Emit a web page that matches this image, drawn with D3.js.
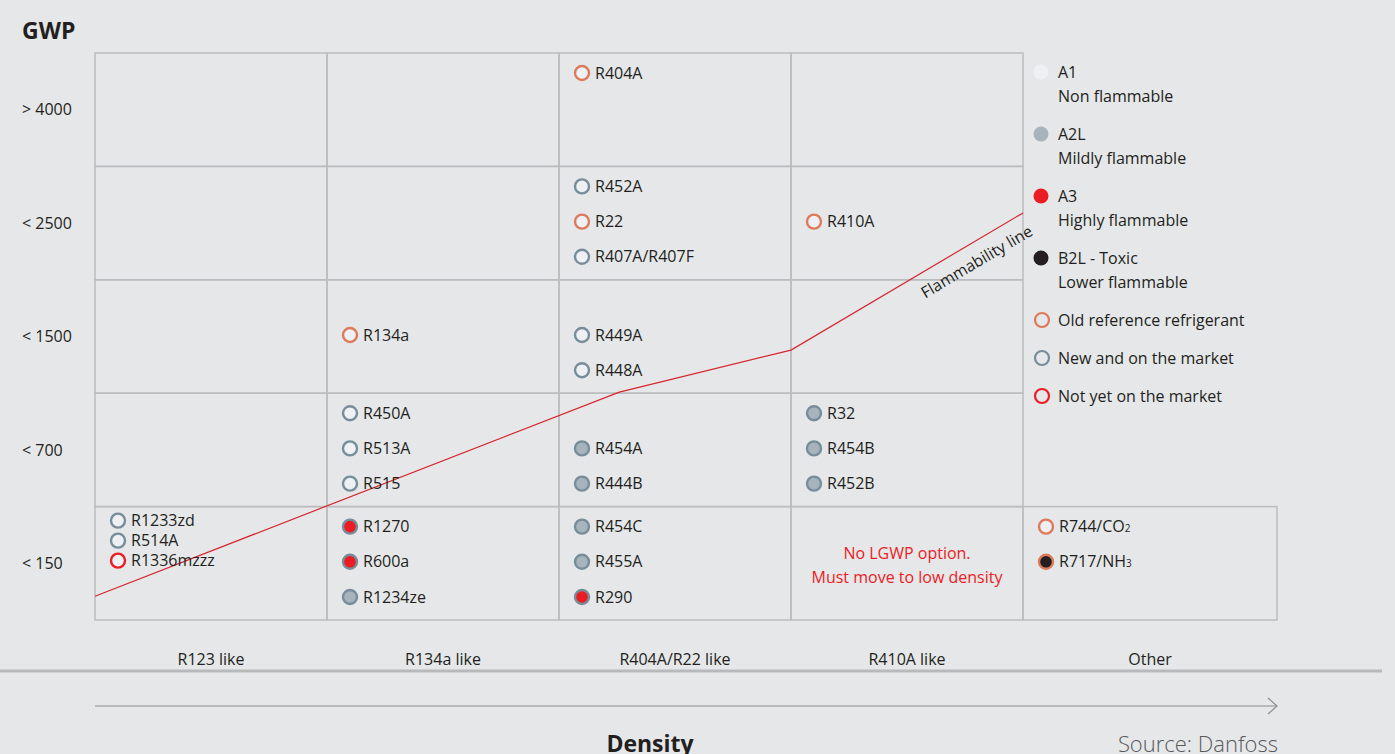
<!DOCTYPE html>
<html>
<head>
<meta charset="utf-8">
<script src="https://cdn.jsdelivr.net/npm/d3@7"></script>
<style>
  body { margin: 0; background: #e6e7e9; }
  svg { display: block; font-family: "Open Sans", sans-serif; }
</style>
</head>
<body>
<svg width="1395" height="754"></svg>
<script>
// density classes (columns) and GWP bands (rows)
var columns = ["R123 like", "R134a like", "R404A/R22 like", "R410A like", "Other"];
var rows = ["> 4000", "< 2500", "< 1500", "< 700", "< 150"];

// refrigerants: column, row, slot inside the cell, safety class, market status
var refrigerants = [
  { name: "R404A", col: "R404A/R22 like", row: "> 4000", slot: 0, cls: "A1", status: "old" },
  { name: "R452A", col: "R404A/R22 like", row: "< 2500", slot: 0, cls: "A1", status: "new" },
  { name: "R22", col: "R404A/R22 like", row: "< 2500", slot: 1, cls: "A1", status: "old" },
  { name: "R407A/R407F", col: "R404A/R22 like", row: "< 2500", slot: 2, cls: "A1", status: "new" },
  { name: "R410A", col: "R410A like", row: "< 2500", slot: 1, cls: "A1", status: "old" },
  { name: "R134a", col: "R134a like", row: "< 1500", slot: 1, cls: "A1", status: "old" },
  { name: "R449A", col: "R404A/R22 like", row: "< 1500", slot: 1, cls: "A1", status: "new" },
  { name: "R448A", col: "R404A/R22 like", row: "< 1500", slot: 2, cls: "A1", status: "new" },
  { name: "R450A", col: "R134a like", row: "< 700", slot: 0, cls: "A1", status: "new" },
  { name: "R513A", col: "R134a like", row: "< 700", slot: 1, cls: "A1", status: "new" },
  { name: "R515", col: "R134a like", row: "< 700", slot: 2, cls: "A1", status: "new" },
  { name: "R454A", col: "R404A/R22 like", row: "< 700", slot: 1, cls: "A2L", status: "new" },
  { name: "R444B", col: "R404A/R22 like", row: "< 700", slot: 2, cls: "A2L", status: "new" },
  { name: "R32", col: "R410A like", row: "< 700", slot: 0, cls: "A2L", status: "new" },
  { name: "R454B", col: "R410A like", row: "< 700", slot: 1, cls: "A2L", status: "new" },
  { name: "R452B", col: "R410A like", row: "< 700", slot: 2, cls: "A2L", status: "new" },
  { name: "R1270", col: "R134a like", row: "< 150", slot: 0, cls: "A3", status: "new" },
  { name: "R600a", col: "R134a like", row: "< 150", slot: 1, cls: "A3", status: "new" },
  { name: "R1234ze", col: "R134a like", row: "< 150", slot: 2, cls: "A2L", status: "new" },
  { name: "R454C", col: "R404A/R22 like", row: "< 150", slot: 0, cls: "A2L", status: "new" },
  { name: "R455A", col: "R404A/R22 like", row: "< 150", slot: 1, cls: "A2L", status: "new" },
  { name: "R290", col: "R404A/R22 like", row: "< 150", slot: 2, cls: "A3", status: "new" },
  { name: "R744/CO", sub: "2", col: "Other", row: "< 150", slot: 0, cls: "A1", status: "old" },
  { name: "R717/NH", sub: "3", col: "Other", row: "< 150", slot: 1, cls: "B2L", status: "old" }
];

// the R123-like cell holds a tighter list
var r123Items = [
  { name: "R1233zd", slot: 0, cls: "A1", status: "new" },
  { name: "R514A", slot: 1, cls: "A1", status: "new" },
  { name: "R1336mzzz", slot: 2, cls: "A1", status: "notyet" }
];

// flammability line in grid units (columns, rows from bottom)
var flamX = [0, 2.26, 3.0, 4.0];
var flamY = [0.21, 2.01, 2.38, 3.59];

var legendClasses = [
  { cls: "A1", l1: "A1", l2: "Non flammable" },
  { cls: "A2L", l1: "A2L", l2: "Mildly flammable" },
  { cls: "A3", l1: "A3", l2: "Highly flammable" },
  { cls: "B2L", l1: "B2L - Toxic", l2: "Lower flammable" }
];
var legendStatus = [
  { status: "old", label: "Old reference refrigerant" },
  { status: "new", label: "New and on the market" },
  { status: "notyet", label: "Not yet on the market" }
];

var fillColor = { A1: "#eef0f3", A2L: "#a7b4bd", A3: "#ec1c24", B2L: "#231f20" };
var strokeColor = { old: "#dd7a5b", new: "#778e9a", notyet: "#ec1c24" };

var svg = d3.select("svg"),
  textColor = "#231f20",
  gridColor = "#bcbdbf";

var x = d3.scaleBand().domain(columns.slice(0, 4)).range([95, 1023]);
var otherX = 1023, otherW = 254;
var y = d3.scaleBand().domain(rows).range([53, 620]);
var colLeft = function(c) { return c === "Other" ? otherX : x(c); };
var colWidth = function(c) { return c === "Other" ? otherW : x.bandwidth(); };

var xLin = d3.scaleLinear().domain([0, 4]).range([95, 1023]);
var yLin = d3.scaleLinear().domain([0, 5]).range([620, 53]);

// grid cells
var cells = [];
rows.forEach(function(r) {
  columns.forEach(function(c) {
    if (c !== "Other" || r === "< 150") cells.push({ col: c, row: r });
  });
});

svg.append("g").selectAll("rect")
  .data(cells)
  .enter().append("rect")
  .attr("x", function(d) { return colLeft(d.col); })
  .attr("y", function(d) { return y(d.row); })
  .attr("width", function(d) { return colWidth(d.col); })
  .attr("height", y.bandwidth())
  .attr("fill", "none")
  .attr("stroke", gridColor)
  .attr("stroke-width", 1.5);

// GWP title and row labels
svg.append("text")
  .attr("x", 22).attr("y", 39)
  .attr("font-size", 23).attr("font-weight", 700)
  .attr("fill", textColor)
  .text("GWP");

svg.append("g").selectAll("text")
  .data(rows)
  .enter().append("text")
  .attr("x", 22)
  .attr("y", function(d) { return y(d) + y.bandwidth() / 2; })
  .attr("dy", "0.35em")
  .attr("font-size", 16)
  .attr("fill", textColor)
  .text(function(d) { return d; });

// column labels
svg.append("g").selectAll("text")
  .data(columns)
  .enter().append("text")
  .attr("x", function(d) { return colLeft(d) + colWidth(d) / 2; })
  .attr("y", 659)
  .attr("dy", "0.35em")
  .attr("text-anchor", "middle")
  .attr("font-size", 16)
  .attr("fill", textColor)
  .text(function(d) { return d; });

svg.append("line")
  .attr("x1", 0).attr("x2", 1382)
  .attr("y1", 671).attr("y2", 671)
  .attr("stroke", "#b8b9bb").attr("stroke-width", 3);

// density arrow
svg.append("line")
  .attr("x1", 95).attr("x2", 1277)
  .attr("y1", 706).attr("y2", 706)
  .attr("stroke", "#8a8b8d").attr("stroke-width", 1.2);
svg.append("path")
  .attr("d", "M1268,698L1277,706L1268,714")
  .attr("fill", "none")
  .attr("stroke", "#8a8b8d").attr("stroke-width", 1.2);

svg.append("text")
  .attr("x", 650).attr("y", 752)
  .attr("text-anchor", "middle")
  .attr("font-size", 23).attr("font-weight", 700)
  .attr("fill", textColor)
  .text("Density");

svg.append("text")
  .attr("x", 1278).attr("y", 752)
  .attr("text-anchor", "end")
  .attr("font-size", 22).attr("font-weight", 300)
  .attr("fill", "#58595b")
  .text("Source: Danfoss");

// flammability line
var flamPts = flamX.map(function(v, i) { return [xLin(v), yLin(flamY[i])]; });
svg.append("path")
  .attr("d", d3.line()(flamPts))
  .attr("fill", "none")
  .attr("stroke", "#d7262e")
  .attr("stroke-width", 1.2);

var p2 = flamPts[2], p3 = flamPts[3];
var ang = Math.atan2(p3[1] - p2[1], p3[0] - p2[0]) * 180 / Math.PI;
svg.append("text")
  .attr("transform", "translate(" + (p2[0] + (p3[0] - p2[0]) * 0.76) + "," + (p2[1] + (p3[1] - p2[1]) * 0.76) + ")rotate(" + ang + ")")
  .attr("y", 24)
  .attr("text-anchor", "middle")
  .attr("font-size", 16)
  .attr("fill", textColor)
  .text("Flammability line");

// refrigerant markers
function drawItems(sel, left, top, step) {
  sel.append("circle")
    .attr("cx", left + 23)
    .attr("cy", function(d) { return top + d.slot * step; })
    .attr("r", 7)
    .attr("fill", function(d) { return fillColor[d.cls]; })
    .attr("stroke", function(d) { return strokeColor[d.status]; })
    .attr("stroke-width", 2.4);

  var t = sel.append("text")
    .attr("x", left + 36)
    .attr("y", function(d) { return top + d.slot * step; })
    .attr("dy", "0.35em")
    .attr("font-size", 16)
    .attr("fill", textColor)
    .text(function(d) { return d.name; });
  t.filter(function(d) { return d.sub; })
    .append("tspan")
    .attr("font-size", 10)
    .text(function(d) { return d.sub; });
}

var items = svg.append("g").selectAll("g")
  .data(refrigerants)
  .enter().append("g");
items.each(function(d) {
  drawItems(d3.select(this), colLeft(d.col), y(d.row) + 20, 35.2);
});

var r123 = svg.append("g").selectAll("g")
  .data(r123Items)
  .enter().append("g");
r123.each(function() {
  drawItems(d3.select(this), x("R123 like"), y("< 150") + 14, 20);
});

// note in the R410A-like low GWP cell
svg.append("g").selectAll("text")
  .data(["No LGWP option.", "Must move to low density"])
  .enter().append("text")
  .attr("x", x("R410A like") + x.bandwidth() / 2)
  .attr("y", function(d, i) { return 553 + i * 24; })
  .attr("dy", "0.35em")
  .attr("text-anchor", "middle")
  .attr("font-size", 16)
  .attr("fill", "#ec1c24")
  .text(function(d) { return d; });

// legend
var legend = svg.append("g");
var lc = legend.selectAll("g.cls")
  .data(legendClasses)
  .enter().append("g")
  .attr("class", "cls")
  .attr("transform", function(d, i) { return "translate(1041," + (72 + i * 62) + ")"; });
lc.append("circle")
  .attr("r", 7.5)
  .attr("fill", function(d) { return fillColor[d.cls]; });
lc.append("text")
  .attr("x", 17).attr("dy", "0.35em")
  .attr("font-size", 16).attr("fill", textColor)
  .text(function(d) { return d.l1; });
lc.append("text")
  .attr("x", 17).attr("y", 24).attr("dy", "0.35em")
  .attr("font-size", 16).attr("fill", textColor)
  .text(function(d) { return d.l2; });

var ls = legend.selectAll("g.st")
  .data(legendStatus)
  .enter().append("g")
  .attr("class", "st")
  .attr("transform", function(d, i) { return "translate(1042," + (320 + i * 38) + ")"; });
ls.append("circle")
  .attr("r", 7)
  .attr("fill", "none")
  .attr("stroke", function(d) { return strokeColor[d.status]; })
  .attr("stroke-width", 2.2);
ls.append("text")
  .attr("x", 16).attr("dy", "0.35em")
  .attr("font-size", 16).attr("fill", textColor)
  .text(function(d) { return d.label; });
</script>
</body>
</html>
